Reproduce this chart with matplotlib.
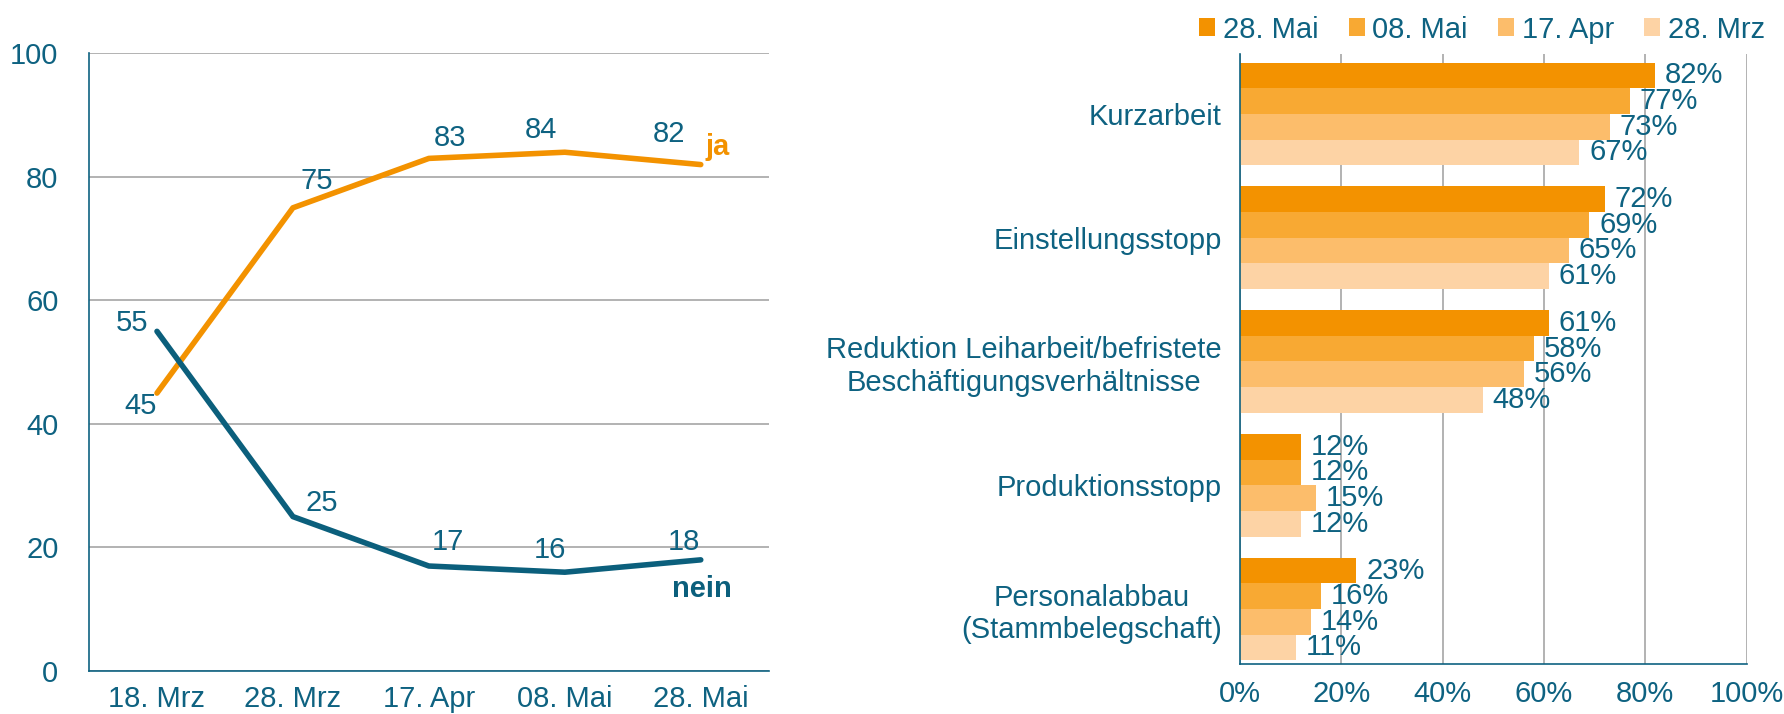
import matplotlib
matplotlib.use("Agg")
import numpy as np
import matplotlib.pyplot as plt

plt.rcParams['font.family'] = ['Liberation Sans', 'DejaVu Sans']

# --- Daten links: Liniendiagramm ---
dates = ['18. Mrz', '28. Mrz', '17. Apr', '08. Mai', '28. Mai']
ja = [45, 75, 83, 84, 82]
nein = [55, 25, 17, 16, 18]

# --- Daten rechts: Balkendiagramm ---
measures = ['Kurzarbeit', 'Einstellungsstopp',
            'Reduktion Leiharbeit/befristete\nBeschäftigungsverhältnisse',
            'Produktionsstopp', 'Personalabbau\n(Stammbelegschaft)']
series_names = ['28. Mai', '08. Mai', '17. Apr', '28. Mrz']
val_28mai = [82, 72, 61, 12, 23]
val_08mai = [77, 69, 58, 12, 16]
val_17apr = [73, 65, 56, 15, 14]
val_28mrz = [67, 61, 48, 12, 11]

TEAL = '#0E6281'
LINE_TEAL = '#0B5F7C'
ORANGE = '#F39200'
BAR_COLORS = ['#F39200', '#F8A933', '#FCBD6B', '#FDD3A5']
GRID = '#A6A6A6'
FS = 21

fig = plt.figure(figsize=(17.84, 7.14), dpi=100)

# ---------------- Linke Grafik ----------------
ax1 = fig.add_axes([0.0499, 0.0602, 0.381, 0.865])
x = np.arange(len(dates))
ax1.plot(x, ja, color=ORANGE, lw=4, solid_capstyle='round')
ax1.plot(x, nein, color=LINE_TEAL, lw=4, solid_capstyle='round')
ax1.set_xlim(-0.5, 4.5)
ax1.set_ylim(0, 100)
ax1.set_yticks(range(0, 101, 20))
ax1.set_xticks(x)
ax1.set_xticklabels(dates)
ax1.tick_params(length=0, labelsize=FS, colors=TEAL, pad=10)
ax1.tick_params(axis='y', pad=22)
ax1.grid(axis='y', color=GRID, lw=1.2)
ax1.set_axisbelow(True)
for s in ['top', 'right']:
    ax1.spines[s].set_visible(False)
for s in ['left', 'bottom']:
    ax1.spines[s].set_color(TEAL)
    ax1.spines[s].set_linewidth(1.2)

# Offsets der Datenbeschriftungen (Punkte)
ja_off = [(-12, -9), (17, 19), (15, 15), (-17, 16), (-23, 22)]
nein_off = [(-18, 6), (21, 10), (14, 17), (-11, 16), (-12, 13)]
for i in range(len(dates)):
    ax1.annotate(str(ja[i]), (x[i], ja[i]), xytext=ja_off[i], textcoords='offset points',
                 ha='center', va='center', fontsize=FS, color=TEAL)
    ax1.annotate(str(nein[i]), (x[i], nein[i]), xytext=nein_off[i], textcoords='offset points',
                 ha='center', va='center', fontsize=FS, color=TEAL)
ax1.annotate('ja', (x[-1], ja[-1]), xytext=(12, 13), textcoords='offset points',
             ha='center', va='center', fontsize=FS, color=ORANGE, fontweight='bold')
ax1.annotate('nein', (x[-1], nein[-1]), xytext=(1, -21), textcoords='offset points',
             ha='center', va='center', fontsize=FS, color=LINE_TEAL, fontweight='bold')

# ---------------- Rechte Grafik ----------------
ax2 = fig.add_axes([0.695, 0.0707, 0.284, 0.853])
values = [val_28mai, val_08mai, val_17apr, val_28mrz]
n_cat = len(measures)
bar_h = 0.207
ypos = np.arange(n_cat)
for k, (name, vals) in enumerate(zip(series_names, values)):
    y = ypos + (k - 1.5) * bar_h
    ax2.barh(y, vals, height=bar_h, color=BAR_COLORS[k], label=name)
    for yy, v in zip(y, vals):
        ax2.annotate(f'{v}%', (v, yy), xytext=(7, 0), textcoords='offset points',
                     ha='left', va='center', fontsize=FS, color=TEAL)

ax2.set_ylim(n_cat - 0.56, -0.48)
ax2.set_xlim(0, 100)
ax2.set_xticks(range(0, 101, 20))
ax2.set_xticklabels([f'{t}%' for t in range(0, 101, 20)])
ax2.set_yticks(ypos)
ax2.set_yticklabels(measures, multialignment='center')
ax2.tick_params(length=0, labelsize=FS, colors=TEAL)
ax2.tick_params(axis='x', pad=12)
ax2.tick_params(axis='y', pad=13)
ax2.grid(axis='x', color=GRID, lw=1.2)
ax2.set_axisbelow(True)
for s in ['top', 'right']:
    ax2.spines[s].set_visible(False)
for s in ['left', 'bottom']:
    ax2.spines[s].set_color(TEAL)
    ax2.spines[s].set_linewidth(1.2)

fig.legend(loc='upper right', bbox_to_anchor=(1.004, 1.015), ncol=4, frameon=False,
           fontsize=FS, handlelength=0.55, handleheight=0.55, handletextpad=0.25,
           columnspacing=1.05, labelcolor=TEAL)

fig.savefig('out.png', dpi=100)
